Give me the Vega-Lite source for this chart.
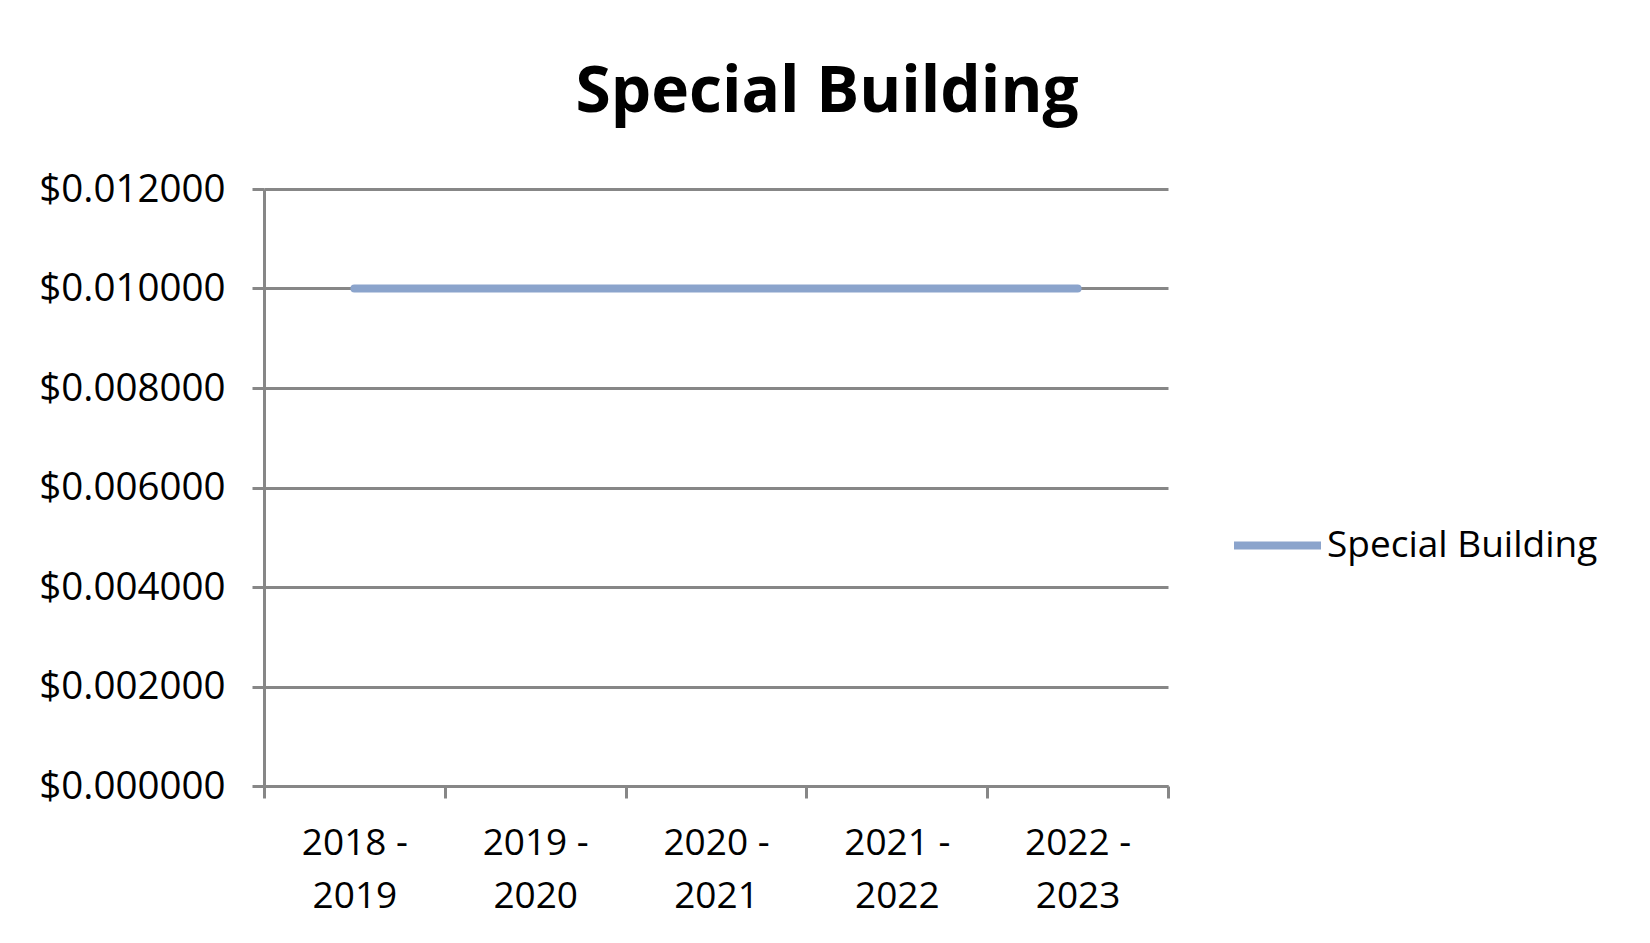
{
  "$schema": "https://vega.github.io/schema/vega-lite/v6.json",
  "autosize": {"type": "none"},
  "width": 904,
  "height": 597,
  "padding": {"left": 264, "top": 189, "right": 482, "bottom": 157},
  "background": "white",
  "title": {
    "text": "Special Building",
    "font": "Open Sans",
    "fontSize": 64,
    "fontWeight": "bold",
    "color": "#000000",
    "anchor": "middle",
    "dx": 111,
    "offset": 45
  },
  "data": {
    "values": [
      {"year": "2018 - 2019", "series": "Special Building", "rate": 0.01},
      {"year": "2019 - 2020", "series": "Special Building", "rate": 0.01},
      {"year": "2020 - 2021", "series": "Special Building", "rate": 0.01},
      {"year": "2021 - 2022", "series": "Special Building", "rate": 0.01},
      {"year": "2022 - 2023", "series": "Special Building", "rate": 0.01}
    ]
  },
  "mark": {"type": "line", "strokeWidth": 8, "strokeCap": "round"},
  "encoding": {
    "x": {
      "field": "year",
      "type": "ordinal",
      "scale": {"type": "band", "paddingInner": 0, "paddingOuter": 0},
      "axis": {
        "title": null,
        "labelAngle": 0,
        "labelFont": "Open Sans",
        "labelFontSize": 37,
        "labelColor": "#000000",
        "labelExpr": "[substring(datum.label,0,6), substring(datum.label,7)]",
        "labelLineHeight": 53,
        "labelPadding": 27,
        "labelLimit": 400,
        "tickBand": "extent",
        "tickSize": 12,
        "tickWidth": 3,
        "tickColor": "#878787",
        "domainColor": "#878787",
        "domainWidth": 3,
        "grid": false
      }
    },
    "y": {
      "field": "rate",
      "type": "quantitative",
      "scale": {"domain": [0, 0.012], "nice": false},
      "axis": {
        "title": null,
        "values": [0, 0.002, 0.004, 0.006, 0.008, 0.01, 0.012],
        "format": "$.6f",
        "labelFont": "Open Sans",
        "labelFontSize": 38.5,
        "labelColor": "#000000",
        "labelPadding": 27,
        "labelLimit": 400,
        "tickSize": 12,
        "tickWidth": 3,
        "tickColor": "#878787",
        "domainColor": "#878787",
        "domainWidth": 3,
        "grid": true,
        "gridColor": "#878787",
        "gridWidth": 3
      }
    },
    "color": {
      "field": "series",
      "type": "nominal",
      "scale": {"range": ["#8BA4CC"]},
      "legend": {
        "title": null,
        "orient": "none",
        "legendX": 966,
        "legendY": 309,
        "symbolType": "stroke",
        "symbolSize": 7569,
        "symbolStrokeWidth": 8,
        "labelFont": "Open Sans",
        "labelFontSize": 37,
        "labelColor": "#000000",
        "labelOffset": 2,
        "labelLimit": 500
      }
    }
  },
  "config": {
    "view": {"stroke": null}
  }
}
